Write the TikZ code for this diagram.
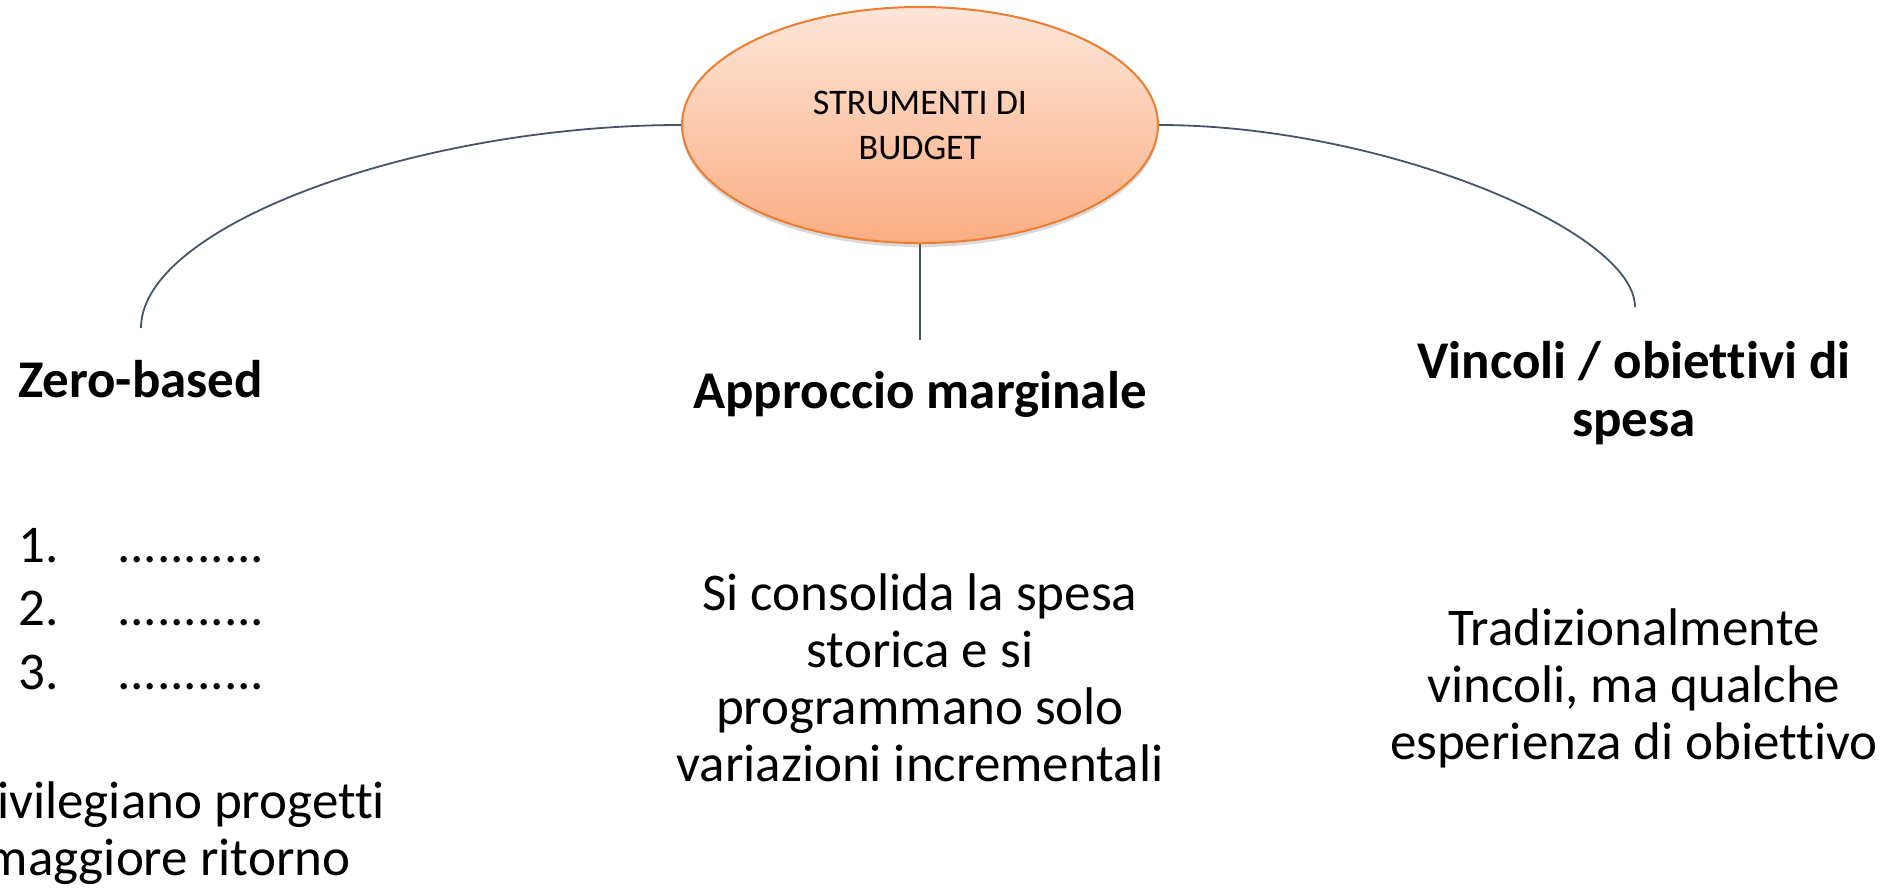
\documentclass[tikz,border=0pt]{standalone}
\usepackage{fontspec}
\setmainfont{Carlito}[Ligatures=NoCommon]
\usetikzlibrary{positioning,shapes.geometric,shadows}
\definecolor{peachtop}{HTML}{FDE6D9}
\definecolor{peachbot}{HTML}{FBAD82}
\definecolor{peachline}{HTML}{ED7D31}
\definecolor{linkgray}{HTML}{44546A}

\begin{document}
\begin{tikzpicture}[x=1pt, y=-1pt,
    hub/.style={ellipse, draw=peachline, line width=2pt,
                top color=peachtop, bottom color=peachbot,
                minimum width=476pt, minimum height=236pt, inner sep=0pt,
                align=center, font=\fontsize{36}{45}\selectfont,
                drop shadow={shadow xshift=0pt, shadow yshift=-4pt,
                             opacity=0.25, fill=black!60}},
    head/.style={anchor=base, inner sep=0pt, align=center,
                 font=\fontsize{53}{58}\selectfont\bfseries},
    body/.style={anchor=base, inner sep=0pt, align=center,
                 font=\fontsize{53}{57}\selectfont},
    link/.style={draw=linkgray, line width=1.8pt},
  ]
  \useasboundingbox (0,0) rectangle (1898,892);

  \node[hub] (budget) at (920,125) {STRUMENTI DI\\BUDGET};

  % base = baseline of the last line
  \node[head] (zerobased) at (140.5,397) {Zero-based};
  \node[head] (marginale) at (920,408) {Approccio marginale};
  \node[head] (vincoli) at (1634,436) {Vincoli / obiettivi di\\spesa};

  \coordinate (zeroend) at (141,328);
  \coordinate (margend) at (920,340);
  \coordinate (vincend) at (1635,307);

  \draw[link] (budget.west) .. controls (420,125) and (141,225) .. (zeroend);
  \draw[link] (budget.south) -- (margend);
  \draw[link] (budget.east) .. controls (1380,125) and (1635,230) .. (vincend);

  % elenco zero-based
  \foreach \k in {1,2,3} {
    \node[body, anchor=base west] (num\k) at (18,{498.5+63.5*\k}) {\k.};
    \node[body, anchor=base west] (dots\k) at (117,{498.5+63.5*\k}) {...........};
  }
  \node[body] (zeronote) at (168,875) {privilegiano progetti\\maggiore ritorno};

  \node[body] (margtext) at (920,781)
    {Si consolida la spesa\\storica e si\\programmano solo\\variazioni incrementali};
  \node[body] (vinctext) at (1634,759)
    {Tradizionalmente\\vincoli, ma qualche\\esperienza di obiettivo};
\end{tikzpicture}
\end{document}
